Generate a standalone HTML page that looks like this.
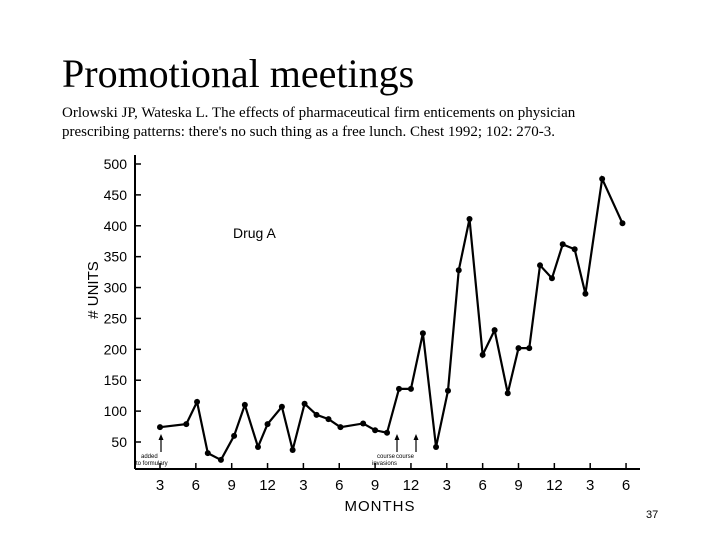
<!DOCTYPE html>
<html><head><meta charset="utf-8"><style>
body{margin:0;background:#fff;}
svg{display:block;font-family:"Liberation Sans",sans-serif;}
</style></head><body>
<svg width="720" height="540">
<text x="62" y="87" font-family="Liberation Serif" font-size="40">Promotional meetings</text>
<text x="62" y="117" font-family="Liberation Serif" font-size="15">Orlowski JP, Wateska L. The effects of pharmaceutical firm enticements on physician</text>
<text x="62" y="136" font-family="Liberation Serif" font-size="15">prescribing patterns: there's no such thing as a free lunch. Chest 1992; 102: 270-3.</text>
<g id="chart"></g>
<text x="646" y="518" font-size="11">37</text>
</svg>
<script>
const yTicks=[50,100,150,200,250,300,350,400,450,500];
const xTickLabels=["3","6","9","12","3","6","9","12","3","6","9","12","3","6"];
const months=[3,5.2,6.1,7,8.1,9.2,10.1,11.2,12,13.2,14.1,15.1,16.1,17.1,18.1,20,21,22,23,24,25,26.1,27.1,28,28.9,30,31,32.1,33,33.9,34.8,35.8,36.7,37.7,38.6,40,41.7];
const units=[74,79,115,32,21,60,110,42,79,107,37,112,94,87,74,80,69,65,136,136,226,42,133,328,411,191,231,129,202,202,336,315,370,362,290,476,404];
const NS="http://www.w3.org/2000/svg";
const g=document.getElementById('chart');
const y=v=>442-(v-50)*0.6178;
const x=m=>160+(m-3)*11.95;
function el(t,a){const e=document.createElementNS(NS,t);for(const k in a)e.setAttribute(k,a[k]);g.appendChild(e);return e;}
let e=el('line',{x1:135,y1:155,x2:135,y2:469,stroke:'#000','stroke-width':2});


e=el('line',{x1:135,y1:469,x2:640,y2:469,stroke:'#000','stroke-width':2});


yTicks.forEach(v=>{
 let t=el('line',{x1:135,y1:y(v),x2:141,y2:y(v),stroke:'#000','stroke-width':1.5});
 
 
 let l=el('text',{x:127,y:y(v)+5,'text-anchor':'end','font-size':14});
 l.textContent=v;
 
 
});
xTickLabels.forEach((s,i)=>{
 const xx=x(3+i*3);
 let t=el('line',{x1:xx,y1:463,x2:xx,y2:469,stroke:'#000','stroke-width':1.5});
 
 
 let l=el('text',{x:xx,y:490,'text-anchor':'middle','font-size':15});
 l.textContent=s;
 
 
});
let p=el('polyline',{points:months.map((m,i)=>x(m)+','+y(units[i])).join(' '),fill:'none',stroke:'#000','stroke-width':2.2});


months.forEach((m,i)=>{
 let c=el('circle',{cx:x(m),cy:y(units[i]),r:3,fill:'#000'});
 
 
});
let t=el('text',{x:380,y:511,'text-anchor':'middle','font-size':15,'letter-spacing':'1'});t.textContent='MONTHS';


t=el('text',{x:0,y:0,'text-anchor':'middle','font-size':15,transform:'translate(98,290) rotate(-90)'});t.textContent='# UNITS';


t=el('text',{x:233,y:238,'font-size':14});t.textContent='Drug A';


[[161,'added','to formulary',440],[397,'course','invasions',440],[416,'course','',440]].forEach(a=>{
 let ar=el('line',{x1:a[0],y1:452,x2:a[0],y2:437,stroke:'#000','stroke-width':1.2});
 
 
 let h=el('polygon',{points:`${a[0]-2.5},${440} ${a[0]+2.5},${440} ${a[0]},${434}`,fill:'#000'});
 
 
 let l=el('text',{x:a[0]-20,y:458,'font-size':6});l.textContent=a[1];
 
 
 if(a[2]){let l2=el('text',{x:a[0]-25,y:465,'font-size':6});l2.textContent=a[2];
 
 }
});
</script>
</body></html>
